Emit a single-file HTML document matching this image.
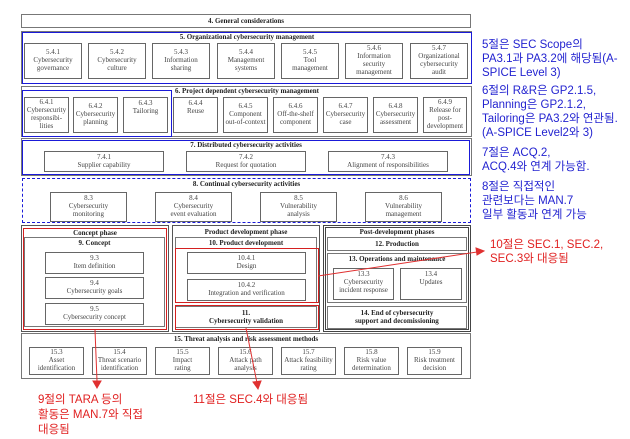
<!DOCTYPE html>
<html><head><meta charset="utf-8">
<style>
body{margin:0;width:630px;height:439px;background:#fff;position:relative;overflow:hidden;font-family:"Liberation Serif",serif;}
div{position:absolute;box-sizing:border-box;}
.g{border:1px solid #777;}
.b{border:1px solid #666;background:#fff;display:flex;align-items:center;justify-content:center;text-align:center;font-size:7px;line-height:7.8px;color:#444;}
.t{font-size:7px;font-weight:bold;color:#222;text-align:center;white-space:nowrap;}
.blue{border:1.5px solid #1a1ad8;}
.red{border:1.5px solid #d42020;}
.kb{font-family:"Liberation Sans","Noto Sans CJK KR",sans-serif;color:#2323d0;font-size:11.5px;line-height:14px;white-space:nowrap;}
.kr{font-family:"Liberation Sans","Noto Sans CJK KR",sans-serif;color:#e02020;font-size:11.5px;line-height:15px;white-space:nowrap;}
</style></head><body>
<div class="g t" style="left:21px;top:14px;width:450px;height:14px;line-height:12px;">4. General considerations</div>
<div class="g" style="left:21px;top:31px;width:451px;height:53px;"></div>
<div class="blue" style="left:22px;top:32px;width:450px;height:52px;"></div>
<div class="t" style="left:22px;top:33px;width:450px;">5. Organizational cybersecurity management</div>
<div class="b" style="left:24px;top:43px;width:58px;height:36px;">5.4.1<br>Cybersecurity<br>governance</div>
<div class="b" style="left:88px;top:43px;width:58px;height:36px;">5.4.2<br>Cybersecurity<br>culture</div>
<div class="b" style="left:152px;top:43px;width:58px;height:36px;">5.4.3<br>Information<br>sharing</div>
<div class="b" style="left:217px;top:43px;width:58px;height:36px;">5.4.4<br>Management<br>systems</div>
<div class="b" style="left:281px;top:43px;width:58px;height:36px;">5.4.5<br>Tool<br>management</div>
<div class="b" style="left:345px;top:43px;width:58px;height:36px;">5.4.6<br>Information<br>security<br>management</div>
<div class="b" style="left:410px;top:43px;width:58px;height:36px;">5.4.7<br>Organizational<br>cybersecurity<br>audit</div>
<div class="g" style="left:21px;top:86px;width:451px;height:51px;"></div>
<div class="t" style="left:22px;top:87px;width:450px;">6. Project dependent cybersecurity management</div>
<div class="b" style="left:24px;top:97px;width:45px;height:36px;">6.4.1<br>Cybersecurity<br>responsibi-<br>lities</div>
<div class="b" style="left:73px;top:97px;width:45px;height:36px;">6.4.2<br>Cybersecurity<br>planning</div>
<div class="b" style="left:123px;top:97px;width:45px;height:36px;align-items:flex-start;padding-top:2px;">6.4.3<br>Tailoring</div>
<div class="b" style="left:173px;top:97px;width:45px;height:36px;align-items:flex-start;padding-top:2px;">6.4.4<br>Reuse</div>
<div class="b" style="left:223px;top:97px;width:45px;height:36px;">6.4.5<br>Component<br>out-of-context</div>
<div class="b" style="left:273px;top:97px;width:45px;height:36px;">6.4.6<br>Off-the-shelf<br>component</div>
<div class="b" style="left:323px;top:97px;width:45px;height:36px;">6.4.7<br>Cybersecurity<br>case</div>
<div class="b" style="left:373px;top:97px;width:45px;height:36px;">6.4.8<br>Cybersecurity<br>assessment</div>
<div class="b" style="left:423px;top:97px;width:44px;height:36px;">6.4.9<br>Release for<br>post-<br>development</div>
<div class="blue" style="left:22px;top:90px;width:150px;height:47px;"></div>
<div class="g" style="left:21px;top:138px;width:451px;height:38px;"></div>
<div class="blue" style="left:22px;top:140px;width:448px;height:35px;"></div>
<div class="t" style="left:22px;top:141px;width:448px;">7. Distributed cybersecurity activities</div>
<div class="b" style="left:44px;top:151px;width:120px;height:21px;">7.4.1<br>Supplier capability</div>
<div class="b" style="left:186px;top:151px;width:120px;height:21px;">7.4.2<br>Request for quotation</div>
<div class="b" style="left:328px;top:151px;width:120px;height:21px;">7.4.3<br>Alignment of responsibilities</div>
<div style="left:22px;top:178px;width:449px;height:45px;border:1.5px dashed #1a1ad8;"></div>
<div class="t" style="left:22px;top:180px;width:449px;">8. Continual cybersecurity activities</div>
<div class="b" style="left:50px;top:192px;width:77px;height:30px;">8.3<br>Cybersecurity<br>monitoring</div>
<div class="b" style="left:155px;top:192px;width:77px;height:30px;">8.4<br>Cybersecurity<br>event evaluation</div>
<div class="b" style="left:260px;top:192px;width:77px;height:30px;">8.5<br>Vulnerability<br>analysis</div>
<div class="b" style="left:365px;top:192px;width:77px;height:30px;">8.6<br>Vulnerability<br>management</div>
<div style="left:21px;top:225px;width:148px;height:107px;border:1.5px solid #555;"></div>
<div class="t" style="left:21px;top:229px;width:148px;">Concept phase</div>
<div class="g" style="left:24px;top:237px;width:141px;height:90px;"></div>
<div class="t" style="left:24px;top:239px;width:141px;">9. Concept</div>
<div class="b" style="left:45px;top:252px;width:99px;height:22px;">9.3<br>Item definition</div>
<div class="b" style="left:45px;top:277px;width:99px;height:22px;">9.4<br>Cybersecurity goals</div>
<div class="b" style="left:45px;top:303px;width:99px;height:22px;">9.5<br>Cybersecurity concept</div>
<div class="red" style="left:23px;top:228px;width:144px;height:102px;"></div>
<div style="left:172px;top:225px;width:148px;height:107px;border:1.5px solid #555;"></div>
<div class="t" style="left:172px;top:228px;width:148px;">Product development phase</div>
<div class="g" style="left:175px;top:237px;width:142px;height:66px;"></div>
<div class="t" style="left:175px;top:239px;width:142px;">10. Product development</div>
<div class="b" style="left:187px;top:252px;width:119px;height:22px;">10.4.1<br>Design</div>
<div class="b" style="left:187px;top:279px;width:119px;height:22px;">10.4.2<br>Integration and verification</div>
<div class="red" style="left:175px;top:248px;width:144px;height:55px;"></div>
<div class="g t" style="left:175px;top:306px;width:142px;height:22px;line-height:7.6px;padding-top:3px;">11.<br>Cybersecurity validation</div>
<div class="red" style="left:175px;top:305px;width:144px;height:25px;"></div>
<div style="left:323px;top:225px;width:148px;height:107px;border:3px double #444;"></div>
<div class="t" style="left:323px;top:228px;width:148px;">Post-development phases</div>
<div class="g t" style="left:327px;top:237px;width:140px;height:14px;line-height:12px;">12. Production</div>
<div class="g" style="left:327px;top:253px;width:140px;height:50px;"></div>
<div class="t" style="left:327px;top:255px;width:140px;">13. Operations and maintenance</div>
<div class="b" style="left:333px;top:268px;width:61px;height:32px;align-items:flex-start;padding-top:2px;">13.3<br>Cybersecurity<br>incident response</div>
<div class="b" style="left:400px;top:268px;width:62px;height:32px;align-items:flex-start;padding-top:2px;">13.4<br>Updates</div>
<div class="g t" style="left:327px;top:306px;width:140px;height:23px;line-height:7.6px;padding-top:3px;">14. End of cybersecurity<br>support and decomissioning</div>
<div class="g" style="left:21px;top:333px;width:450px;height:46px;"></div>
<div class="t" style="left:21px;top:335px;width:450px;">15. Threat analysis and risk assessment methods</div>
<div class="b" style="left:29px;top:347px;width:55px;height:28px;">15.3<br>Asset<br>identification</div>
<div class="b" style="left:92px;top:347px;width:55px;height:28px;">15.4<br>Threat scenario<br>identification</div>
<div class="b" style="left:155px;top:347px;width:55px;height:28px;">15.5<br>Impact<br>rating</div>
<div class="b" style="left:218px;top:347px;width:55px;height:28px;">15.6<br>Attack path<br>analysis</div>
<div class="b" style="left:281px;top:347px;width:55px;height:28px;">15.7<br>Attack feasibility<br>rating</div>
<div class="b" style="left:344px;top:347px;width:55px;height:28px;">15.8<br>Risk value<br>determination</div>
<div class="b" style="left:407px;top:347px;width:55px;height:28px;">15.9<br>Risk treatment<br>decision</div>
<svg style="position:absolute;left:0;top:0" width="630" height="439">
<g stroke="#e03030" stroke-width="1" fill="#e03030">
<line x1="95" y1="330" x2="97" y2="381"/>
<polygon points="93,381 101,381 97,388"/>
<line x1="246" y1="328" x2="257" y2="383"/>
<polygon points="253,382 261,381 258,389"/>
<line x1="318" y1="276" x2="477" y2="252"/>
<polygon points="476,248 484,251 477,255"/>
</g>
</svg>
<div class="kb" style="left:482px;top:38px;">5절은 SEC Scope의<br>PA3.1과 PA3.2에 해당됨(A-<br>SPICE Level 3)</div>
<div class="kb" style="left:482px;top:84px;">6절의 R&amp;R은 GP2.1.5,<br>Planning은 GP2.1.2,<br>Tailoring은 PA3.2와 연관됨.<br>(A-SPICE Level2와 3)</div>
<div class="kb" style="left:482px;top:146px;">7절은 ACQ.2,<br>ACQ.4와 연계 가능함.</div>
<div class="kb" style="left:482px;top:180px;">8절은 직접적인<br>관련보다는 MAN.7<br>일부 활동과 연계 가능</div>
<div class="kr" style="left:490px;top:238px;line-height:14px;">10절은 SEC.1, SEC.2,<br>SEC.3와 대응됨</div>
<div class="kr" style="left:38px;top:393px;">9절의 TARA 등의<br>활동은 MAN.7와 직접<br>대응됨</div>
<div class="kr" style="left:193px;top:393px;">11절은 SEC.4와 대응됨</div>
</body></html>
